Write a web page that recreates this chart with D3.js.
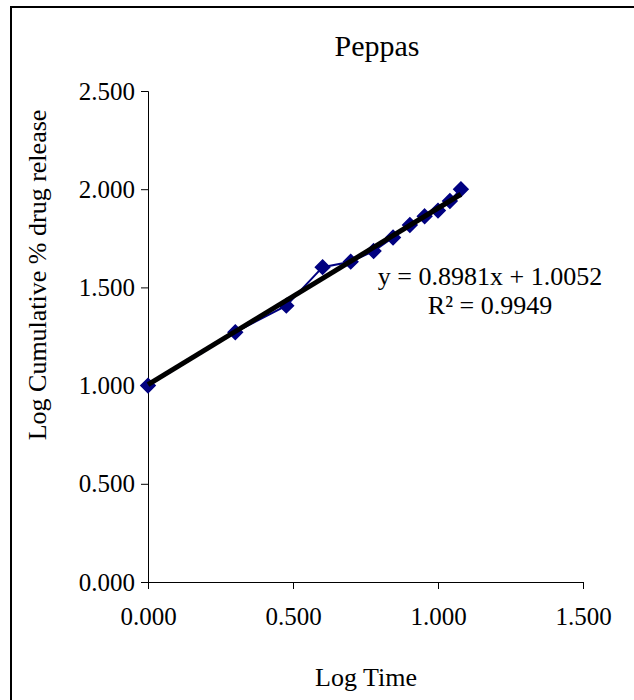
<!DOCTYPE html>
<html>
<head>
<meta charset="utf-8">
<script src="https://cdn.jsdelivr.net/npm/d3@7"></script>
<style>
  html, body { margin: 0; padding: 0; background: #fff; }
  svg { display: block; }
  text { font-family: "Liberation Serif", "Times New Roman", serif; fill: #000; }
</style>
</head>
<body>
<svg id="chart" width="634" height="700"></svg>
<script>
// Peppas model: log cumulative % drug release vs log time
const logTime    = [0.000, 0.301, 0.477, 0.602, 0.699, 0.778, 0.845, 0.903, 0.954, 1.000, 1.041, 1.079];
const logRelease = [1.000, 1.272, 1.407, 1.603, 1.631, 1.685, 1.754, 1.818, 1.862, 1.891, 1.940, 2.000];

// linear trendline reported on the chart
const slope = 0.8981;
const intercept = 1.0052;
const rSquared = 0.9949;

const xTicks = [0, 0.5, 1.0, 1.5];
const yTicks = [0, 0.5, 1.0, 1.5, 2.0, 2.5];

const svg = d3.select("#chart");

// frame (left and top edges)
svg.append("path")
  .attr("d", "M11,700 V7 H634")
  .attr("fill", "none")
  .attr("stroke", "#000")
  .attr("stroke-width", 2);

const x = d3.scaleLinear().domain([0, 1.5]).range([148, 583]);
const y = d3.scaleLinear().domain([0, 2.5]).range([582, 91]);
const fmt = d3.format(".3f");

// axes
const xAxis = svg.append("g")
  .attr("transform", `translate(0,${y(0)})`)
  .call(d3.axisBottom(x).tickValues(xTicks).tickFormat(fmt).tickSizeOuter(0).tickSize(7).tickPadding(18));
const yAxis = svg.append("g")
  .attr("transform", `translate(${x(0)},0)`)
  .call(d3.axisLeft(y).tickValues(yTicks).tickFormat(fmt).tickSizeOuter(0).tickSize(7).tickPadding(6));

[xAxis, yAxis].forEach(g => {
  g.select(".domain").attr("stroke", "#000").attr("stroke-width", 1);
  g.selectAll(".tick line").attr("stroke", "#000").attr("stroke-width", 1);
  g.selectAll(".tick text")
    .style("font-family", '"Liberation Serif", "Times New Roman", serif')
    .style("font-size", "25px")
    .attr("fill", "#000");
});

// data series
const pts = logTime.map((t, i) => [t, logRelease[i]]);
svg.append("path")
  .datum(pts)
  .attr("fill", "none")
  .attr("stroke", "#000080")
  .attr("stroke-width", 2)
  .attr("d", d3.line().x(d => x(d[0])).y(d => y(d[1])));

svg.append("g").selectAll("path")
  .data(pts)
  .join("path")
  .attr("transform", d => `translate(${x(d[0])},${y(d[1])})`)
  .attr("d", d3.symbol(d3.symbolDiamond2, 130))
  .attr("fill", "#000080")
  .attr("stroke", "#000080")
  .attr("stroke-width", 1.5);

// linear trendline over the data range
const tMin = d3.min(logTime), tMax = d3.max(logTime);
svg.append("line")
  .attr("x1", x(tMin)).attr("y1", y(intercept + slope * tMin))
  .attr("x2", x(tMax)).attr("y2", y(intercept + slope * tMax))
  .attr("stroke", "#000")
  .attr("stroke-width", 5);

// trendline equation
svg.append("text")
  .attr("x", 490).attr("y", 285)
  .attr("text-anchor", "middle")
  .style("font-size", "26px")
  .text(`y = ${slope}x + ${intercept}`);
svg.append("text")
  .attr("x", 490).attr("y", 314)
  .attr("text-anchor", "middle")
  .style("font-size", "26px")
  .text(`R² = ${rSquared}`);

// title and axis titles
svg.append("text")
  .attr("x", 377).attr("y", 56)
  .attr("text-anchor", "middle")
  .style("font-size", "30px")
  .text("Peppas");

svg.append("text")
  .attr("x", 366).attr("y", 686)
  .attr("text-anchor", "middle")
  .style("font-size", "26px")
  .text("Log Time");

svg.append("text")
  .attr("transform", "translate(46,275) rotate(-90)")
  .attr("text-anchor", "middle")
  .style("font-size", "26px")
  .text("Log Cumulative % drug release");
</script>
</body>
</html>
